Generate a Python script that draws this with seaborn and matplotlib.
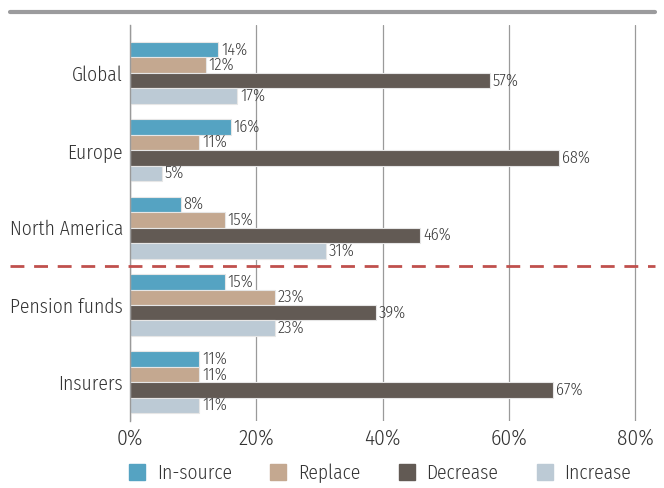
import matplotlib
matplotlib.use("Agg")
import matplotlib.pyplot as plt
import seaborn as sns
import pandas as pd
from matplotlib.lines import Line2D

categories = ["Global", "Europe", "North America", "Pension funds", "Insurers"]
series = ["In-source", "Replace", "Decrease", "Increase"]
in_source = [14, 16, 8, 15, 11]
replace = [12, 11, 15, 23, 11]
decrease = [57, 68, 46, 39, 67]
increase = [17, 5, 31, 23, 11]
x_ticks = [0, 20, 40, 60, 80]
x_tick_labels = ["0%", "20%", "40%", "60%", "80%"]

colors = ["#55A3C2", "#C4A890", "#625A54", "#BCCAD5"]

rows = []
for s, vals in zip(series, [in_source, replace, decrease, increase]):
    for c, v in zip(categories, vals):
        rows.append({"category": c, "series": s, "value": v})
df = pd.DataFrame(rows)

sns.set_style("white")
plt.rcParams["font.family"] = ["Fira Sans Condensed", "PT Sans Narrow", "DejaVu Sans"]
plt.rcParams["font.weight"] = 300

fig = plt.figure(figsize=(6.64, 4.88), dpi=100)
xmax = 80.3
ax = fig.add_axes([130 / 664, 1 - 421 / 488, 505 * xmax / 80 / 664, 396 / 488])

sns.barplot(data=df, x="value", y="category", hue="series", order=categories,
            hue_order=series, palette=colors, saturation=1, orient="h", width=0.8,
            edgecolor="#E6E6E6", linewidth=0.8, ax=ax, legend=False)

for cont in ax.containers:
    ax.bar_label(cont, labels=[f"{int(v)}%" for v in cont.datavalues],
                 padding=2, fontsize=12, color="#3A3A3A")

ax.set_xlim(0, xmax)
ax.set_ylim(4.5, -0.62)
ax.set_xticks(x_ticks)
ax.set_xticklabels(x_tick_labels, fontsize=15.5, color="#333333")
ax.tick_params(axis="y", labelsize=14, labelcolor="#333333", length=0, pad=5)
ax.tick_params(axis="x", length=0, pad=5)
ax.set_xlabel("")
ax.set_ylabel("")
for sp in ["top", "right", "bottom"]:
    ax.spines[sp].set_visible(False)
ax.spines["left"].set_color("#9A9A9A")
ax.spines["left"].set_linewidth(1)
ax.set_axisbelow(True)
ax.xaxis.grid(True, color="#9A9A9A", linewidth=0.9)
ax.yaxis.grid(False)

# dashed separator
ax.plot([-120 / 505 * 80, (655 - 130) / 505 * 80], [2.5, 2.5], color="#C0504D",
        linestyle=(0, (5, 3.5)), linewidth=2, clip_on=False, zorder=5)

# top rule
fig.add_artist(Line2D([10 / 664, 655 / 664], [1 - 12 / 488, 1 - 12 / 488],
                      color="#9B9B9D", linewidth=3))

handles = [Line2D([0], [0], marker="s", linestyle="", markersize=11,
                  markerfacecolor=c, markeredgecolor=c) for c in colors]
fig.legend(handles, series, loc="center left", bbox_to_anchor=(110 / 664, 1 - 473 / 488),
           ncol=4, frameon=False, fontsize=14, handletextpad=0.5,
           columnspacing=1.9, handlelength=1.0, labelcolor="#333333")

fig.savefig("out.png", dpi=100)
